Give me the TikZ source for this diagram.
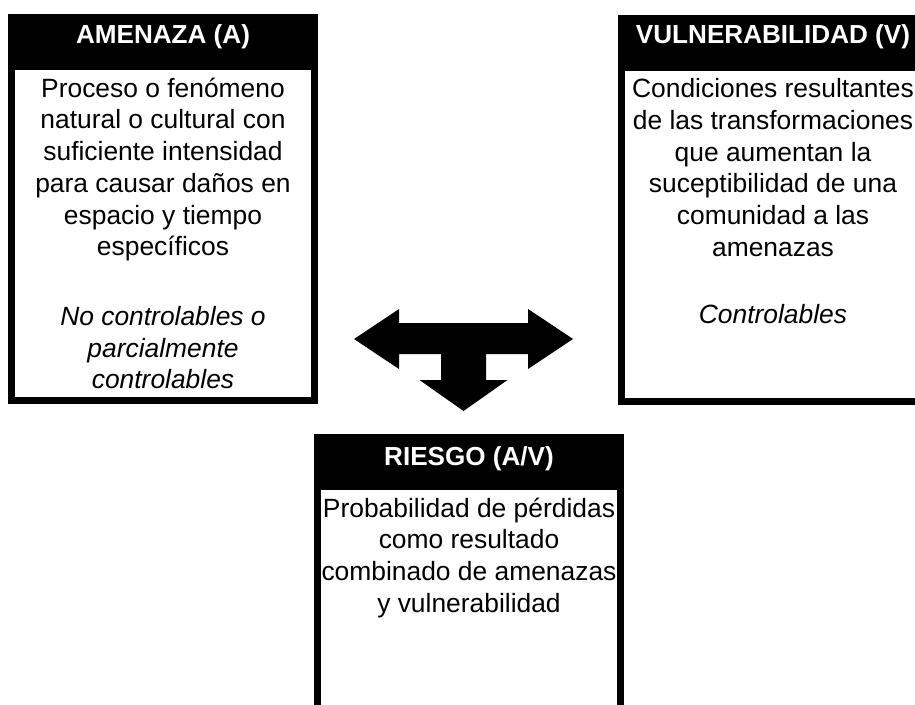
\documentclass[tikz,border=0pt]{standalone}
\usepackage{fontspec}
\setmainfont{Liberation Sans}

\begin{document}
\begin{tikzpicture}[x=1pt, y=-1pt,
        caja/.style = {draw, line width=7pt, minimum width=303pt, minimum height=383pt},
        titulo/.style = {text=white, font=\fontsize{26.1}{31.7}\selectfont\bfseries, inner sep=0pt, anchor=base},
        texto/.style = {align=center, font=\fontsize{26.4}{31.7}\selectfont, inner sep=0pt, anchor=north}]
        \useasboundingbox (0,0) rectangle (915,704);
        \clip (0,0) rectangle (915,704);
        % cajas
        \node[caja] (A) at (163,209) {};
        \node[caja] (V) at (773,209.5) {};
        \node[caja, minimum height=340pt] (R) at (469,607.5) {};
        % barras de titulo
        \fill (A.north west) rectangle ([yshift=-56pt]A.north east);
        \fill (V.north west) rectangle ([yshift=-56pt]V.north east);
        \fill (R.north west) rectangle ([yshift=-56pt]R.north east);
        \node[titulo] (tA) at ([yshift=-29pt]A.north) {AMENAZA (A)};
        \node[titulo] (tV) at ([yshift=-29pt]V.north) {VULNERABILIDAD (V)};
        \node[titulo] (tR) at ([yshift=-31pt]R.north) {RIESGO (A/V)};
        % textos (primera linea con base 26pt bajo el borde superior del nodo)
        \node[texto] (dA) at ([yshift=-57pt]A.north) {\rule{0pt}{26pt}Proceso o fenómeno\\natural o cultural con\\suficiente intensidad\\para causar daños en\\espacio y tiempo\\específicos\\[38pt]\textit{No controlables o}\\\textit{parcialmente}\\\textit{controlables}};
        \node[texto] (dV) at ([yshift=-57pt]V.north) {\rule{0pt}{26pt}Condiciones resultantes\\de las transformaciones\\que aumentan la\\suceptibilidad de una\\comunidad a las\\amenazas\\[36pt]\textit{Controlables}};
        \node[texto] (dR) at ([yshift=-57pt]R.north) {\rule{0pt}{26pt}Probabilidad de pérdidas\\como resultado\\combinado de amenazas\\y vulnerabilidad};
        % flecha en T
        \fill (354,339) -- (399,309) -- (399,323) -- (528,323) -- (528,309) -- (573,339)
            -- (528,369) -- (528,354) -- (486,354) -- (486,380) -- (507.5,380) -- (463.5,411)
            -- (419.5,380) -- (441,380) -- (441,354) -- (399,354) -- (399,369) -- cycle;
    \end{tikzpicture}
\end{document}
